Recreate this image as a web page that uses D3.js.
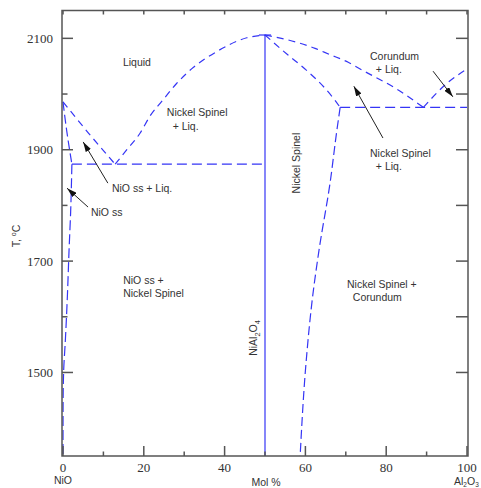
<!DOCTYPE html>
<html>
<head>
<meta charset="utf-8">
<script src="https://cdn.jsdelivr.net/npm/d3@7"></script>
<style>
  body { margin: 0; background: #fff; }
  .tick-label { font-family: "Liberation Serif", "Times New Roman", serif; font-size: 13px; fill: #333; }
  .lbl { font-family: "Liberation Sans", Arial, sans-serif; font-size: 10.5px; fill: #333; }
  .phase { fill: none; stroke: #3535f5; stroke-width: 1.2; }
</style>
</head>
<body>
<script>
var WIDTH = 481, HEIGHT = 488;

// axes
var xTicks = [0, 20, 40, 60, 80, 100];
var xMinor = [10, 30, 50, 70, 90];
var yTicks = [1500, 1700, 1900, 2100];
var yMinor = [1600, 1800, 2000];

// phase boundaries, [mol % Al2O3, T in C]
var liqNiO = [[0, 1986], [6.3, 1930], [12.9, 1874]];
var liqSpinelLeft = [[12.9, 1874], [15.8, 1900], [19.1, 1930], [21.5, 1960], [24.7, 1989], [28, 2018], [32.3, 2048], [38, 2076], [45.5, 2101], [50, 2106]];
var solidusNiO = [[0, 1986], [0.9, 1935], [2.2, 1874]];
var solvusNiO = [[2.2, 1874], [1.9, 1790], [1.5, 1720], [1.1, 1640], [0.6, 1560], [0.15, 1500], [0.02, 1440], [0, 1350]];
var eutecticLeft = [[2.2, 1874], [50, 1874]];
var spinelLine = [[50, 1350], [50, 2106]];
var spinelCap = [[48.5, 2106], [51.5, 2106]];
var liqCorundum = [[50, 2106], [55.8, 2097], [62.4, 2082], [66, 2071], [70.6, 2057], [74.3, 2042], [82.6, 2009], [89.2, 1976]];
var liqSpinelRight = [[50, 2106], [55.7, 2070], [59.9, 2045], [64.9, 2010], [67.3, 1989], [68.6, 1976]];
var eutecticRight = [[68.6, 1976], [100, 1976]];
var liqCorRight = [[89.2, 1976], [95, 2019], [100, 2045]];
var solvusSpinel = [[68.6, 1976], [67.7, 1930], [66.1, 1840], [63.4, 1721], [61.8, 1637], [60.1, 1512], [58.7, 1350]];

// arrows [from, to]
var arrows = [
  [[11.1, 1840], [5.0, 1914]],
  [[6.2, 1797], [1.0, 1831]],
  [[79.2, 1921], [72.0, 2014]],
  [[91.6, 2041], [96.5, 1995]]
];

// region labels [c, T, lines]
var labels = [
  [18.3, 2057, ["Liquid"], "middle"],
  [25.7, 1967, ["Nickel Spinel", "  + Liq."], "start"],
  [12.1, 1831, ["NiO ss + Liq."], "start"],
  [6.9, 1788, ["NiO ss"], "start"],
  [14.9, 1666, ["NiO ss +", "Nickel Spinel"], "start"],
  [76.0, 2068, ["Corundum", "  + Liq."], "start"],
  [76.0, 1894, ["Nickel Spinel", "  + Liq."], "start"],
  [70.3, 1659, ["Nickel Spinel +", "  Corundum"], "start"]
];

var x = d3.scaleLinear().domain([0, 100]).range([63, 467]);
var y = d3.scaleLinear().domain([1350, 2150]).range([456, 10.5]);

var svg = d3.select('body').append('svg')
    .attr('width', WIDTH)
    .attr('height', HEIGHT);

svg.append('defs').append('marker')
    .attr('id', 'head')
    .attr('viewBox', '0 0 10 6')
    .attr('refX', 10).attr('refY', 3)
    .attr('markerWidth', 10).attr('markerHeight', 6)
    .attr('markerUnits', 'userSpaceOnUse')
    .attr('orient', 'auto')
  .append('path')
    .attr('d', 'M0,0 L10,3 L0,6 Z')
    .attr('fill', '#111');

var lineX = d3.line()
    .x(function(d) { return x(d[0]); })
    .y(function(d) { return y(d[1]); })
    .curve(d3.curveMonotoneX);

var lineY = d3.line()
    .x(function(d) { return x(d[0]); })
    .y(function(d) { return y(d[1]); })
    .curve(d3.curveMonotoneY);

var g = svg.append('g');

function phase(data, dash, line) {
    g.append('path').classed('phase', true)
        .attr('d', (line || lineX)(data))
        .attr('stroke-dasharray', dash);
}

phase(liqNiO, '7,5');
phase(liqSpinelLeft, '7,5');
phase(solidusNiO, '9,4', lineY);
phase(solvusNiO, '10,4', lineY);
phase(eutecticLeft, '10,5');
phase(liqCorundum, '7,5');
phase(liqSpinelRight, '7,5');
phase(eutecticRight, '10,5');
phase(liqCorRight, '7,5');
phase(solvusSpinel, '9,4', lineY);
phase(spinelLine, null, lineY);
phase(spinelCap, null);

// arrows
g.selectAll('line.arrow').data(arrows).enter()
    .append('line').classed('arrow', true)
    .attr('x1', function(d) { return x(d[0][0]); })
    .attr('y1', function(d) { return y(d[0][1]); })
    .attr('x2', function(d) { return x(d[1][0]); })
    .attr('y2', function(d) { return y(d[1][1]); })
    .attr('stroke', '#222')
    .attr('stroke-width', 1)
    .attr('marker-end', 'url(#head)');

// labels
labels.forEach(function(l) {
    var t = g.append('text').classed('lbl', true)
        .attr('x', x(l[0])).attr('y', y(l[1]))
        .attr('text-anchor', l[3])
        .attr('xml:space', 'preserve');
    l[2].forEach(function(s, i) {
        t.append('tspan').attr('x', x(l[0])).attr('dy', i === 0 ? '0.35em' : '1.3em').text(s);
    });
});

// vertical labels
g.append('text').classed('lbl', true)
    .attr('transform', 'translate(' + (x(57.7) + 4) + ',' + y(1876) + ') rotate(-90)')
    .attr('text-anchor', 'middle')
    .text('Nickel Spinel');

var ni = g.append('text').classed('lbl', true)
    .attr('transform', 'translate(' + (x(47) + 4) + ',' + y(1562) + ') rotate(-90)')
    .attr('text-anchor', 'middle');
ni.append('tspan').text('NiAl');
ni.append('tspan').attr('font-size', '7.5px').attr('dy', 3).text('2');
ni.append('tspan').attr('dy', -3).text('O');
ni.append('tspan').attr('font-size', '7.5px').attr('dy', 3).text('4');

// frame and ticks
var axisColor = '#555';
var frame = svg.append('g').attr('stroke', axisColor).attr('stroke-width', 1.5);
frame.append('rect')
    .attr('x', x(0) - 1).attr('y', y(2150))
    .attr('width', x(100) - x(0) + 2).attr('height', y(1350) - y(2150))
    .attr('fill', 'none');

function tick(x1, y1, x2, y2) {
    frame.append('line').attr('x1', x1).attr('y1', y1).attr('x2', x2).attr('y2', y2);
}
xTicks.forEach(function(v) { tick(x(v), y(1350), x(v), y(1350) - 10); tick(x(v), y(2150), x(v), y(2150) + 4); });
xMinor.forEach(function(v) { tick(x(v), y(1350), x(v), y(1350) - 4.5); tick(x(v), y(2150), x(v), y(2150) + 4); });
yTicks.forEach(function(v) { tick(x(0) - 1, y(v), x(0) + 10, y(v)); tick(x(100) + 1, y(v), x(100) - 11, y(v)); });
yMinor.forEach(function(v) { tick(x(0) - 1, y(v), x(0) + 4.5, y(v)); tick(x(100) + 1, y(v), x(100) - 11, y(v)); });

svg.selectAll('text.xl').data(xTicks).enter()
    .append('text').attr('class', 'tick-label xl')
    .attr('x', function(d) { return x(d); })
    .attr('y', 472)
    .attr('text-anchor', 'middle')
    .text(function(d) { return d; });

svg.selectAll('text.yl').data(yTicks).enter()
    .append('text').attr('class', 'tick-label yl')
    .attr('x', 53)
    .attr('y', function(d) { return y(d); })
    .attr('dy', '0.35em')
    .attr('text-anchor', 'end')
    .text(function(d) { return d; });

// axis titles
svg.append('text').classed('lbl', true)
    .attr('x', x(0)).attr('y', 484)
    .attr('text-anchor', 'middle').attr('font-size', '10px')
    .text('NiO');

svg.append('text').classed('lbl', true)
    .attr('x', 266).attr('y', 486)
    .attr('text-anchor', 'middle').attr('font-size', '10px')
    .text('Mol %');

var al = svg.append('text').classed('lbl', true)
    .attr('x', 454).attr('y', 485).attr('font-size', '9.5px');
al.append('tspan').text('Al');
al.append('tspan').attr('font-size', '6.5px').attr('dy', 1.5).text('2');
al.append('tspan').attr('dy', -1.5).text('O');
al.append('tspan').attr('font-size', '6.5px').attr('dy', 1.5).text('3');

var tl = svg.append('text').classed('lbl', true)
    .attr('transform', 'translate(20,236) rotate(-90)')
    .attr('text-anchor', 'middle').attr('font-size', '10px');
tl.append('tspan').text('T, ');
tl.append('tspan').attr('font-size', '7px').attr('dy', -4).text('o');
tl.append('tspan').attr('dy', 4).text('C');
</script>
</body>
</html>
